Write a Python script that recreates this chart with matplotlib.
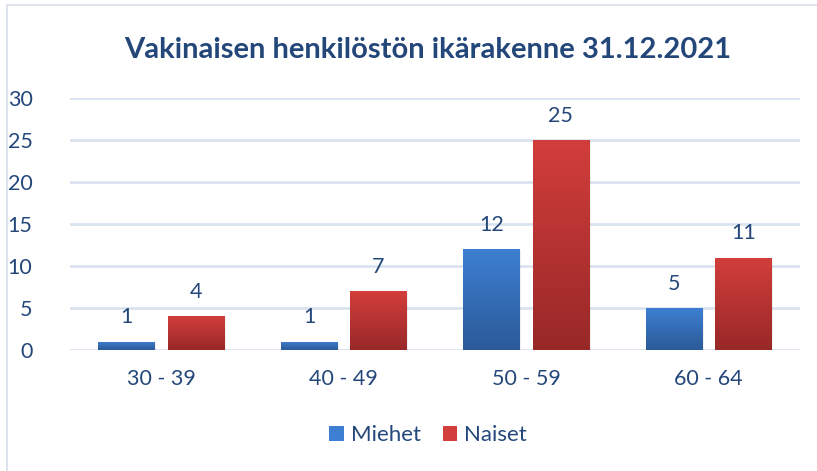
import numpy as np
import matplotlib
matplotlib.use("Agg")
import matplotlib.pyplot as plt
from matplotlib.colors import LinearSegmentedColormap
from matplotlib.patches import Patch, Rectangle

plt.rcParams["font.family"] = ["Lato", "DejaVu Sans"]

TITLE = "Vakinaisen henkilöstön ikärakenne 31.12.2021"
CATEGORIES = ["30 - 39", "40 - 49", "50 - 59", "60 - 64"]
SERIES = ["Miehet", "Naiset"]
MIEHET = [1, 1, 12, 5]
NAISET = [4, 7, 25, 11]
Y_TICKS = [0, 5, 10, 15, 20, 25, 30]

TEXT_C = "#24477A"
GRID_C = "#D9E3F0"
BLUE_TOP, BLUE_BOT = "#3D7FD2", "#2B5A98"
RED_TOP, RED_BOT = "#D23E3B", "#982828"
FS = 15.5

def gradient_bars(ax, bars, top, bot):
    cmap = LinearSegmentedColormap.from_list("g", [bot, top])
    grad = np.linspace(0, 1, 256).reshape(-1, 1)
    for b in bars:
        x0, y0 = b.get_x(), b.get_y()
        w, h = b.get_width(), b.get_height()
        b.set_facecolor("none")
        b.set_edgecolor("none")
        # faint shadow
        ax.add_patch(Rectangle((x0 + 0.008, y0 - 0.12), w, h, facecolor="#000000",
                               alpha=0.06, zorder=2, linewidth=0))
        im = ax.imshow(grad, extent=[x0, x0 + w, y0, y0 + h], origin="lower",
                       cmap=cmap, aspect="auto", zorder=3)
        im.set_clip_path(b)

fig = plt.figure(figsize=(8.17, 4.71), dpi=100)
fig.patches.append(Rectangle((7 / 817, -0.1), 1.2, (1 - 5 / 471) + 0.1,
                             transform=fig.transFigure, fill=False,
                             edgecolor="#D6DEEA", linewidth=1.2))
ax = fig.add_axes([70 / 817, 1 - 350 / 471, 730 / 817, (350 - 98) / 471])

x = np.arange(len(CATEGORIES))
w = 0.31
off = 0.19
b1 = ax.bar(x - off, MIEHET, w, zorder=3)
b2 = ax.bar(x + off, NAISET, w, zorder=3)
gradient_bars(ax, b1, BLUE_TOP, BLUE_BOT)
gradient_bars(ax, b2, RED_TOP, RED_BOT)

for xs, vals in ((x - off, MIEHET), (x + off, NAISET)):
    for xi, v in zip(xs, vals):
        ax.text(xi, v + 2.9, str(v), ha="center", va="center", fontsize=FS, color=TEXT_C)

ax.set_xlim(-0.5, len(CATEGORIES) - 0.5)
ax.set_ylim(0, 30)
ax.set_yticks(Y_TICKS)
ax.set_xticks(x)
ax.set_xticklabels(CATEGORIES)
ax.tick_params(axis="both", length=0, labelsize=FS, labelcolor=TEXT_C)
ax.tick_params(axis="x", pad=14)
ax.tick_params(axis="y", pad=27)
ax.grid(axis="y", color=GRID_C, linewidth=2)
ax.set_axisbelow(True)
for s in ax.spines.values():
    s.set_visible(False)

fig.text(428 / 817, 1 - 50 / 471, TITLE, ha="center", va="center",
         fontsize=21, fontweight="bold", color=TEXT_C)

handles = [Patch(facecolor=BLUE_TOP, edgecolor="none"), Patch(facecolor=RED_TOP, edgecolor="none")]
fig.legend(handles, SERIES, loc="center", bbox_to_anchor=(428 / 817, 1 - 435 / 471),
           ncol=2, frameon=False, fontsize=16, labelcolor=TEXT_C,
           handlelength=0.65, handleheight=0.65, handletextpad=0.3, columnspacing=1.0)

fig.savefig("out.png", dpi=100)
